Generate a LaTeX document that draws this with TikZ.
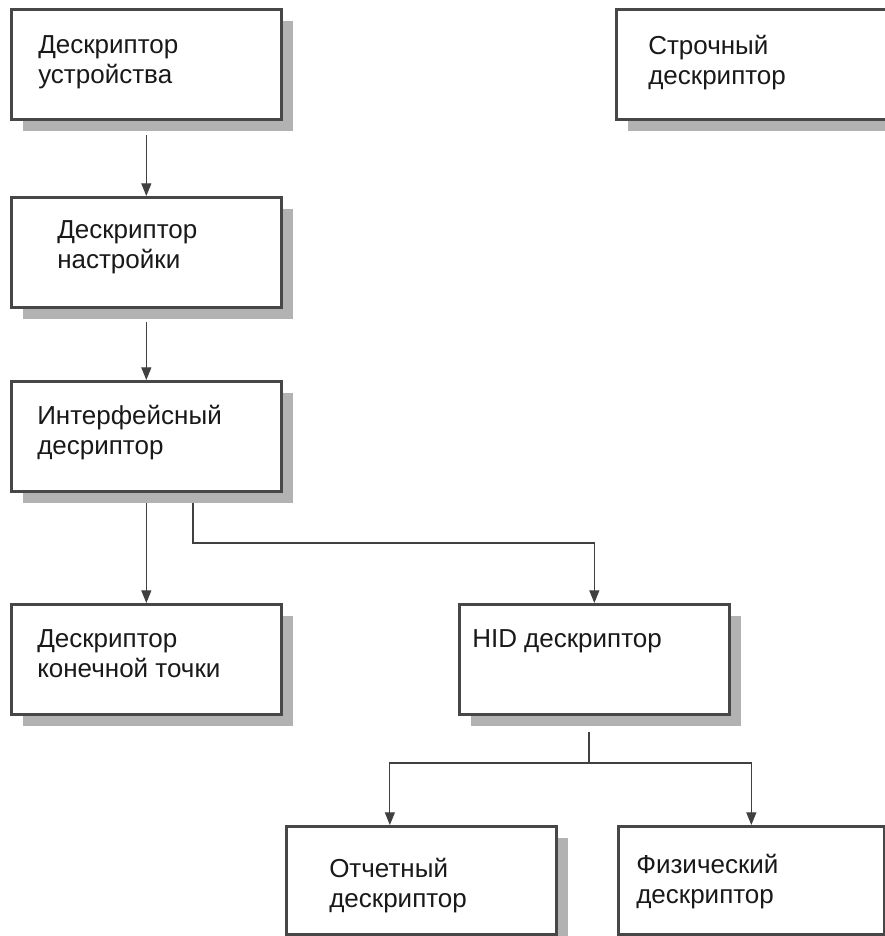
\documentclass[tikz,border=0pt]{standalone}
\usepackage{fontspec}
\setmainfont{Liberation Sans}
\usetikzlibrary{arrows.meta, shadows, positioning}

\tikzset{
  box/.style={draw=black!72, line width=2pt, fill=white, anchor=north west, inner sep=0pt,
    minimum width=270*0.75pt, minimum height=110*0.75pt,
    drop shadow={shadow xshift=9pt, shadow yshift=-9pt, fill=black!30, opacity=1}},
  txt/.style={anchor=north west, align=left, inner sep=0pt, text=black!90,
    font=\fontsize{19.5pt}{22.5pt}\selectfont},
  link/.style={draw=black!75, line width=0.9pt},
  arr/.style={link, -{Triangle[length=9.5pt,width=7.5pt]}},
}

\begin{document}
\begin{tikzpicture}[x=0.75pt, y=-0.75pt]
  \useasboundingbox[fill=white] (0,0) rectangle (885,936);

  % boxes
  \node[box] (dev)  at (10,8)   {};
  \node[box] (str)  at (615,8)  {};
  \node[box] (cfg)  at (10,196) {};
  \node[box] (ifc)  at (10,380) {};
  \node[box] (ep)   at (10,603) {};
  \node[box] (hid)  at (458,603) {};
  \node[box, minimum height=108*0.75pt] (rep)  at (285,825) {};
  \node[box, minimum width=266*0.75pt, minimum height=108*0.75pt] (phys) at (617,825) {};

  % texts
  \node[txt] (devtext)  at ([shift={(28,27)}]dev.north west)  {Дескриптор\\устройства};
  \node[txt] (strtext)  at ([shift={(33,27)}]str.north west)  {Строчный\\дескриптор};
  \node[txt] (cfgtext)  at ([shift={(47,24)}]cfg.north west)  {Дескриптор\\настройки};
  \node[txt] (ifctext)  at ([shift={(27,25)}]ifc.north west)  {Интерфейсный\\десриптор};
  \node[txt] (eptext)   at ([shift={(27,26)}]ep.north west)   {Дескриптор\\конечной точки};
  \node[txt] (hidtext)  at ([shift={(14,26)}]hid.north west)  {HID дескриптор};
  \node[txt] (reptext)  at ([shift={(44,33)}]rep.north west)  {Отчетный\\дескриптор};
  \node[txt] (physext)  at ([shift={(19,29)}]phys.north west) {Физический\\дескриптор};

  % connectors
  \coordinate (ifcsplit) at (193,543);
  \coordinate (hidfork)  at (589,763);
  \draw[arr, shorten <=11pt] (dev) -- (cfg);
  \draw[arr, shorten <=10pt] (cfg) -- (ifc);
  \draw[arr, shorten <=8pt] (ifc) -- (ep);
  \draw[arr, shorten <=8pt] (ifc.south -| ifcsplit) -- (ifcsplit) -| (hid.north);
  \draw[link, shorten <=12pt] (hid.south -| hidfork) -- (hidfork);
  \draw[arr] (hidfork) -| ([xshift=-23.6pt]rep.north);
  \draw[arr] (hidfork) -| (phys.north);
\end{tikzpicture}
\end{document}
